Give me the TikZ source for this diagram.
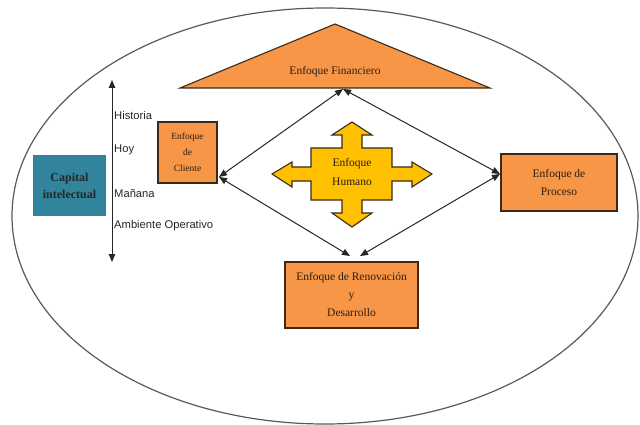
\documentclass[tikz,border=0pt]{standalone}
\usepackage{fontspec}
\setmainfont{Liberation Serif}
\newfontfamily\labelfont{Liberation Sans}
\usetikzlibrary{arrows.meta}
\definecolor{orangefill}{HTML}{F79646}
\definecolor{tealfill}{HTML}{31849B}
\definecolor{yellowfill}{HTML}{FFC000}
\definecolor{edgedark}{HTML}{3B2A1A}
\definecolor{textdark}{HTML}{2A1E14}
\begin{document}
\begin{tikzpicture}[x=1pt,y=-1pt,
  obox/.style={draw=edgedark,line width=1.1pt,fill=orangefill,inner sep=0pt,align=center,
    text=textdark,font=\fontsize{11.5}{18}\selectfont},
  biarrow/.style={{Triangle[length=8pt,width=6.5pt]}-{Triangle[length=8pt,width=6.5pt]},line width=1pt,draw=black!85},
  lbl/.style={anchor=west,inner sep=0pt,font=\labelfont\fontsize{11.2}{13}\selectfont,text=black!85}]
\useasboundingbox (0,0) rectangle (640,425);
% outer ellipse
\draw[line width=1.2pt,draw=black!65] (325,216) ellipse [x radius=313, y radius=208];
% financial triangle
\draw[draw=edgedark,line width=1.1pt,fill=orangefill] (180,88) -- (335,24) -- (490,88) -- cycle;
\node[font=\fontsize{11.5}{14}\selectfont,text=textdark] (fin) at (335,72) {Enfoque Financiero};
% capital intelectual
\node[draw=none,fill=tealfill,minimum width=73pt,minimum height=61pt,inner sep=0pt,align=center,
  font=\bfseries\fontsize{12}{17}\selectfont,text=black!85] (cap) at (69.5,185.5) {Capital\\intelectual};
% time axis
\coordinate (axtop) at (112,80);
\coordinate (axbot) at (112,262);
\draw[biarrow] (axtop) -- (axbot);
\node[lbl] (his) at (114,115) {Historia};
\node[lbl] (hoy) at (114,150) {Hoy};
\node[lbl] (man) at (114,194) {Mañana};
\node[lbl] (amb) at (114,226) {Ambiente Operativo};
% boxes
\node[obox,minimum width=59pt,minimum height=61pt,font=\fontsize{9.5}{16}\selectfont] (cli) at (187.5,152.5) {Enfoque\\de\\Cliente};
\node[obox,minimum width=116pt,minimum height=57pt] (pro) at (559,182.5) {Enfoque de\\Proceso};
\node[obox,minimum width=133pt,minimum height=66pt] (ren) at (351.5,295) {Enfoque de Renovación\\y\\Desarrollo};
% human cross
\draw[draw=edgedark,line width=1.1pt,fill=yellowfill]
  (311,148) -- (342,148) -- (342,135) -- (332,135) -- (352,122) -- (372,135) -- (362,135) -- (362,148)
  -- (392,148) -- (392,167) -- (412,167) -- (412,162) -- (432,174) -- (412,187) -- (412,181) -- (392,181)
  -- (392,200) -- (362,200) -- (362,213) -- (372,213) -- (352,227) -- (332,213) -- (342,213) -- (342,200)
  -- (311,200) -- (311,181) -- (292,181) -- (292,187) -- (272,174) -- (292,162) -- (292,167) -- (311,167) -- cycle;
\node[align=center,font=\fontsize{11.5}{19}\selectfont,text=textdark] (hum) at (352,172) {Enfoque\\Humano};
% diamond connectors
\coordinate (T) at (343,89);
\coordinate (L) at (219,177);
\coordinate (R) at (500,174);
\coordinate (B1) at (350,256);
\coordinate (B2) at (360,256);
\draw[biarrow] (T) -- (L);
\draw[biarrow] (T) -- (R);
\draw[biarrow] (L) -- (B1);
\draw[biarrow] (R) -- (B2);
\end{tikzpicture}
\end{document}
